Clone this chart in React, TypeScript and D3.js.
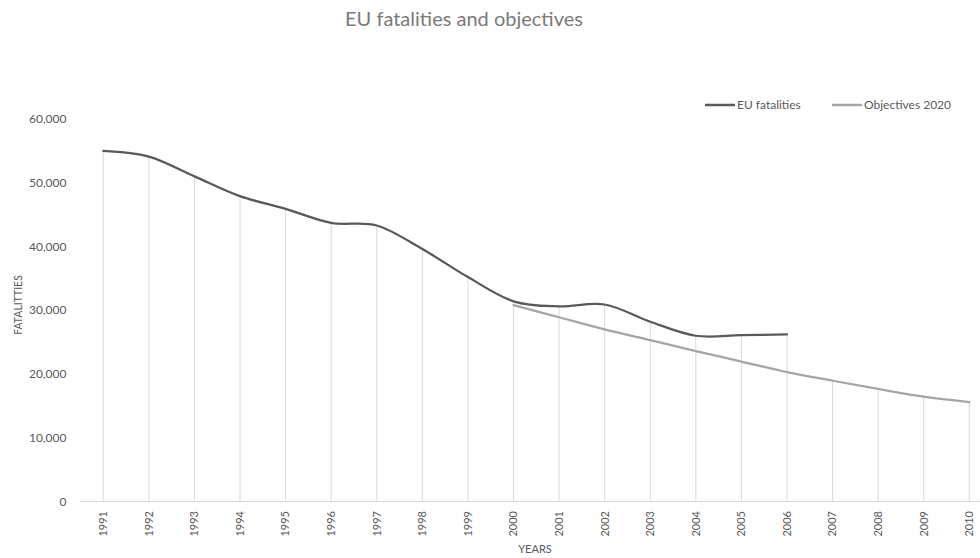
import React from "react";
import * as d3 from "d3";

const years: string[] = ["1991","1992","1993","1994","1995","1996","1997","1998","1999","2000","2001","2002","2003","2004","2005","2006","2007","2008","2009","2010"];
const euYears: string[] = ["1991","1992","1993","1994","1995","1996","1997","1998","1999","2000","2001","2002","2003","2004","2005","2006"];
const euValues: number[] = [55000,54100,51000,47900,45900,43700,43300,39600,35200,31400,30600,30900,28200,26000,26100,26200];
const objYears: string[] = ["2000","2001","2002","2003","2004","2005","2006","2007","2008","2009","2010"];
const objValues: number[] = [30800,28900,27000,25300,23600,21950,20300,18950,17650,16450,15600];
const yTicks: number[] = [0,10000,20000,30000,40000,50000,60000];

const FONT = "Lato, 'Open Sans', sans-serif";
const TEXT = "#595959";

export default function App() {
  const W = 980, H = 558;
  const x = d3.scaleBand<string>().domain(years).range([80.5, 80.5 + 45.58 * years.length]).paddingInner(0).paddingOuter(0);
  const cx = (yr: string) => (x(yr) as number) + x.bandwidth() / 2;
  const y = d3.scaleLinear().domain([0, 60000]).range([501.5, 119]);

  const euPts: [number, number][] = euYears.map((yr, i) => [cx(yr), y(euValues[i])]);
  const objPts: [number, number][] = objYears.map((yr, i) => [cx(yr), y(objValues[i])]);
  const line = d3.line<[number, number]>().curve(d3.curveCatmullRom.alpha(0));

  const dropTops = years.map((yr) => {
    const vals: number[] = [];
    const ei = euYears.indexOf(yr);
    if (ei >= 0) vals.push(euValues[ei]);
    const oi = objYears.indexOf(yr);
    if (oi >= 0) vals.push(objValues[oi]);
    return { yr, v: d3.max(vals) ?? 0 };
  });

  return (
    <svg width={W} height={H} style={{ position: "absolute", left: 0, top: 0, background: "#fff" }} fontFamily={FONT}>
      <text x={464} y={26} textAnchor="middle" fontSize={20} fill="#7a7a7a">EU fatalities and objectives</text>

      {dropTops.map((d) => (
        <line key={d.yr} x1={cx(d.yr)} x2={cx(d.yr)} y1={y(0)} y2={y(d.v)} stroke="#d9d9d9" strokeWidth={1} />
      ))}
      <line x1={80} x2={W} y1={y(0)} y2={y(0)} stroke="#d9d9d9" strokeWidth={1} />

      {yTicks.map((t) => (
        <text key={t} x={66.5} y={y(t)} dy="0.35em" textAnchor="end" fontSize={12} fill={TEXT}>{d3.format(",")(t)}</text>
      ))}
      {years.map((yr) => (
        <text key={yr} transform={`translate(${cx(yr)},${511}) rotate(-90)`} dy="0.35em" textAnchor="end" fontSize={11} fill={TEXT}>{yr}</text>
      ))}

      <text transform={`translate(18,305) rotate(-90)`} dy="0.35em" textAnchor="middle" fontSize={10.5} fill={TEXT}>FATALITTIES</text>
      <text x={535} y={553} textAnchor="middle" fontSize={11} fill={TEXT}>YEARS</text>

      <path d={line(objPts) ?? ""} fill="none" stroke="#a5a5a5" strokeWidth={2.25} strokeLinecap="round" />
      <path d={line(euPts) ?? ""} fill="none" stroke="#595959" strokeWidth={2.25} strokeLinecap="round" />

      <line x1={705} x2={735} y1={105} y2={105} stroke="#595959" strokeWidth={2.5} />
      <text x={737} y={105} dy="0.35em" fontSize={12} fill={TEXT}>EU fatalities</text>
      <line x1={832} x2={862} y1={105} y2={105} stroke="#a5a5a5" strokeWidth={2.5} />
      <text x={864} y={105} dy="0.35em" fontSize={12} fill={TEXT}>Objectives 2020</text>
    </svg>
  );
}
